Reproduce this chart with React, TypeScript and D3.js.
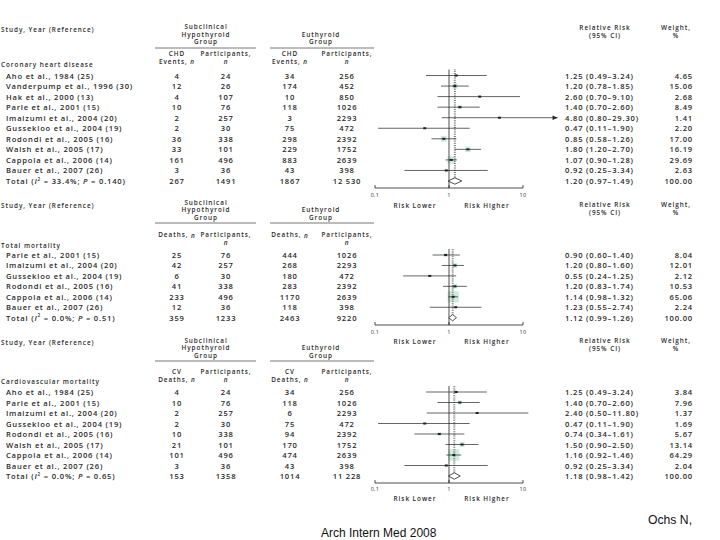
import React from "react";
import * as d3 from "d3";

// ---------- DATA ----------
const chdStudies = [
  "Aho et al., 1984 (25)",
  "Vanderpump et al., 1996 (30)",
  "Hak et al., 2000 (13)",
  "Parle et al., 2001 (15)",
  "Imaizumi et al., 2004 (20)",
  "Gussekloo et al., 2004 (19)",
  "Rodondi et al., 2005 (16)",
  "Walsh et al., 2005 (17)",
  "Cappola et al., 2006 (14)",
  "Bauer et al., 2007 (26)",
];
const chdSubEvents = [4, 12, 4, 10, 2, 2, 36, 33, 161, 3, 267];
const chdSubN = [24, 26, 107, 76, 257, 30, 338, 101, 496, 36, 1491];
const chdEuEvents = [34, 174, 10, 118, 3, 75, 298, 229, 883, 43, 1867];
const chdEuN = [256, 452, 850, 1026, 2293, 472, 2392, 1752, 2639, 398, 12530];
const chdRR = [1.25, 1.2, 2.6, 1.4, 4.8, 0.47, 0.85, 1.8, 1.07, 0.92, 1.2];
const chdLo = [0.49, 0.78, 0.7, 0.7, 0.8, 0.11, 0.58, 1.2, 0.9, 0.25, 0.97];
const chdHi = [3.24, 1.85, 9.1, 2.6, 29.3, 1.9, 1.26, 2.7, 1.28, 3.34, 1.49];
const chdWeight = [4.65, 15.06, 2.68, 8.49, 1.41, 2.2, 17.0, 16.19, 29.69, 2.63, 100.0];
const chdHet = ["33.4%", "0.140"];

const totStudies = [
  "Parle et al., 2001 (15)",
  "Imaizumi et al., 2004 (20)",
  "Gussekloo et al., 2004 (19)",
  "Rodondi et al., 2005 (16)",
  "Cappola et al., 2006 (14)",
  "Bauer et al., 2007 (26)",
];
const totSubEvents = [25, 42, 6, 41, 233, 12, 359];
const totSubN = [76, 257, 30, 338, 496, 36, 1233];
const totEuEvents = [444, 268, 180, 283, 1170, 118, 2463];
const totEuN = [1026, 2293, 472, 2392, 2639, 398, 9220];
const totRR = [0.9, 1.2, 0.55, 1.2, 1.14, 1.23, 1.12];
const totLo = [0.6, 0.8, 0.24, 0.83, 0.98, 0.55, 0.99];
const totHi = [1.4, 1.6, 1.25, 1.74, 1.32, 2.74, 1.26];
const totWeight = [8.04, 12.01, 2.12, 10.53, 65.06, 2.24, 100.0];
const totHet = ["0.0%", "0.51"];

const cvStudies = [
  "Aho et al., 1984 (25)",
  "Parle et al., 2001 (15)",
  "Imaizumi et al., 2004 (20)",
  "Gussekloo et al., 2004 (19)",
  "Rodondi et al., 2005 (16)",
  "Walsh et al., 2005 (17)",
  "Cappola et al., 2006 (14)",
  "Bauer et al., 2007 (26)",
];
const cvSubEvents = [4, 10, 2, 2, 10, 21, 101, 3, 153];
const cvSubN = [24, 76, 257, 30, 338, 101, 496, 36, 1358];
const cvEuEvents = [34, 118, 6, 75, 94, 170, 474, 43, 1014];
const cvEuN = [256, 1026, 2293, 472, 2392, 1752, 2639, 398, 11228];
const cvRR = [1.25, 1.4, 2.4, 0.47, 0.74, 1.5, 1.16, 0.92, 1.18];
const cvLo = [0.49, 0.7, 0.5, 0.11, 0.34, 0.9, 0.92, 0.25, 0.98];
const cvHi = [3.24, 2.6, 11.8, 1.9, 1.61, 2.5, 1.46, 3.34, 1.42];
const cvWeight = [3.84, 7.96, 1.37, 1.69, 5.67, 13.14, 64.29, 2.04, 100.0];
const cvHet = ["0.0%", "0.65"];

const axisTicks = [0.1, 1, 10];
const axisTickLabels = ["0.1", "1", "10"];

// ---------- LAYOUT ----------
const FONT = "'Open Sans', 'DejaVu Sans', sans-serif";
const TXT = "#2a2a2a";
const FS = 7.6; // data rows
const LS = 0.8;
const HFS = 6.4; // headers
const HLS = 0.95;

const x = d3.scaleLog().domain([0.1, 10]).range([375, 523]);

const colSubEv = 177;
const colSubN = 226;
const colEuEv = 290;
const colEuN = 347;
const colRR = 565;
const colRRhdr = 605;
const colW = 693;
const colWhdr = 676;

const fmtN = (n: number) => (n >= 10000 ? d3.format(",")(n).replace(",", " ") : String(n));
const fmtR = d3.format(".2f");

type Sec = {
  studies: string[];
  subEv: number[];
  subN: number[];
  euEv: number[];
  euN: number[];
  rr: number[];
  lo: number[];
  hi: number[];
  w: number[];
  het: string[];
  category: string;
  evHdr: string[];
  hdrY: number;
  grpY: number[];
  lineY: number;
  colY: number[];
  catY: number;
  row0: number;
  dy: number;
  axisY: number;
  tickY: number;
  riskY: number;
  rrHdrY: number[];
};

const sections: Sec[] = [
  {
    studies: chdStudies, subEv: chdSubEvents, subN: chdSubN, euEv: chdEuEvents, euN: chdEuN,
    rr: chdRR, lo: chdLo, hi: chdHi, w: chdWeight, het: chdHet,
    category: "Coronary heart disease", evHdr: ["CHD", "Events, "],
    hdrY: 29, grpY: [26.5, 34, 41.5], lineY: 48, colY: [53.5, 61], catY: 64, row0: 75.5, dy: 10.55,
    axisY: 188, tickY: 195, riskY: 205, rrHdrY: [27.5, 35],
  },
  {
    studies: totStudies, subEv: totSubEvents, subN: totSubN, euEv: totEuEvents, euN: totEuN,
    rr: totRR, lo: totLo, hi: totHi, w: totWeight, het: totHet,
    category: "Total mortality", evHdr: ["Deaths, "],
    hdrY: 205, grpY: [202, 209.5, 217], lineY: 223, colY: [234.5, 242], catY: 245, row0: 255, dy: 10.45,
    axisY: 325, tickY: 332, riskY: 341, rrHdrY: [204.5, 212],
  },
  {
    studies: cvStudies, subEv: cvSubEvents, subN: cvSubN, euEv: cvEuEvents, euN: cvEuN,
    rr: cvRR, lo: cvLo, hi: cvHi, w: cvWeight, het: cvHet,
    category: "Cardiovascular mortality", evHdr: ["CV", "Deaths, "],
    hdrY: 342, grpY: [340, 347.5, 355], lineY: 361, colY: [371.5, 379], catY: 381.5, row0: 392, dy: 10.5,
    axisY: 483, tickY: 489, riskY: 498, rrHdrY: [340.5, 348],
  },
];

const T = (p: {
  x: number;
  y: number;
  anchor?: string;
  children: React.ReactNode;
  size?: number;
  weight?: number;
  ls?: number;
}) => (
  <text
    x={p.x}
    y={p.y}
    textAnchor={p.anchor || "start"}
    dominantBaseline="central"
    fontFamily={FONT}
    fontSize={p.size || FS}
    fontWeight={p.weight || 600}
    letterSpacing={p.ls !== undefined ? p.ls : LS}
    fill={TXT}
  >
    {p.children}
  </text>
);

const H = (p: { x: number; y: number; anchor?: string; children: React.ReactNode }) => (
  <T x={p.x} y={p.y} anchor={p.anchor} size={HFS} ls={HLS}>
    {p.children}
  </T>
);

const It = (p: { children: React.ReactNode }) => <tspan fontStyle="italic">{p.children}</tspan>;

function Section({ s }: { s: Sec }) {
  const n = s.studies.length;
  const rowY = (i: number) => s.row0 + i * s.dy;
  const totalY = rowY(n);
  const pooled = s.rr[n];
  const evHdr = (cx: number) =>
    s.evHdr.length === 1 ? (
      <H x={cx} y={s.colY[0]} anchor="middle">
        {s.evHdr[0]}
        <It>n</It>
      </H>
    ) : (
      <g>
        <H x={cx} y={s.colY[0]} anchor="middle">{s.evHdr[0]}</H>
        <H x={cx} y={s.colY[1]} anchor="middle">
          {s.evHdr[1]}
          <It>n</It>
        </H>
      </g>
    );
  const partHdr = (cx: number) => (
    <g>
      <H x={cx} y={s.colY[0]} anchor="middle">Participants,</H>
      <H x={cx} y={s.colY[1]} anchor="middle">
        <It>n</It>
      </H>
    </g>
  );
  return (
    <g>
      {/* headers */}
      <H x={1} y={s.hdrY}>Study, Year (Reference)</H>
      <H x={206} y={s.grpY[0]} anchor="middle">Subclinical</H>
      <H x={206} y={s.grpY[1]} anchor="middle">Hypothyroid</H>
      <H x={206} y={s.grpY[2]} anchor="middle">Group</H>
      <line x1={155} x2={256} y1={s.lineY} y2={s.lineY} stroke="#555" strokeWidth={0.8} />
      <H x={321} y={s.grpY[1]} anchor="middle">Euthyroid</H>
      <H x={321} y={s.grpY[2]} anchor="middle">Group</H>
      <line x1={270} x2={374} y1={s.lineY} y2={s.lineY} stroke="#555" strokeWidth={0.8} />
      {evHdr(colSubEv)}
      {partHdr(colSubN)}
      {evHdr(colEuEv)}
      {partHdr(colEuN)}
      <H x={colRRhdr} y={s.rrHdrY[0]} anchor="middle">Relative Risk</H>
      <H x={colRRhdr} y={s.rrHdrY[1]} anchor="middle">(95% CI)</H>
      <H x={colWhdr} y={s.rrHdrY[0]} anchor="middle">Weight,</H>
      <H x={colWhdr} y={s.rrHdrY[1]} anchor="middle">%</H>
      <H x={1} y={s.catY}>{s.category}</H>

      {/* rows */}
      {s.rr.map((_, i) => {
        const y = rowY(i);
        const isTot = i === n;
        return (
          <g key={i}>
            {isTot ? (
              <T x={6} y={y}>
                Total (<It>I</It>
                <tspan fontSize={4.8} dy={-2.5}>2</tspan>
                <tspan dy={2.5}> = {s.het[0]}; </tspan>
                <It>P</It> = {s.het[1]})
              </T>
            ) : (
              <T x={6} y={y}>{s.studies[i]}</T>
            )}
            <T x={colSubEv} y={y} anchor="middle">{fmtN(s.subEv[i])}</T>
            <T x={colSubN} y={y} anchor="middle">{fmtN(s.subN[i])}</T>
            <T x={colEuEv} y={y} anchor="middle">{fmtN(s.euEv[i])}</T>
            <T x={colEuN} y={y} anchor="middle">{fmtN(s.euN[i])}</T>
            <T x={colRR} y={y}>
              {fmtR(s.rr[i])} ({fmtR(s.lo[i])}–{fmtR(s.hi[i])})
            </T>
            <T x={colW} y={y} anchor="end">{fmtR(s.w[i])}</T>
          </g>
        );
      })}

      {/* plot: weight squares */}
      {s.rr.slice(0, n).map((r, i) => {
        const side = 1.4 * Math.sqrt(s.w[i]);
        return (
          <rect
            key={"sq" + i}
            x={x(r) - side / 2}
            y={rowY(i) - side / 2}
            width={side}
            height={side}
            fill="#c6e9d5"
            opacity={0.85}
          />
        );
      })}
      {/* reference line at 1 */}
      <line x1={x(1)} x2={x(1)} y1={s.row0 - 6} y2={s.axisY} stroke="#222" strokeWidth={0.8} />
      {/* pooled dotted line */}
      <line
        x1={x(pooled)}
        x2={x(pooled)}
        y1={s.row0 - 6}
        y2={totalY - 3}
        stroke="#777"
        strokeWidth={2}
        strokeDasharray="0.8,1"
      />
      {/* CI lines */}
      {s.rr.slice(0, n).map((r, i) => {
        const y = rowY(i);
        const x2 = x(s.hi[i]);
        const arrow = s.hi[i] > 20;
        return (
          <g key={"ci" + i}>
            <line x1={x(s.lo[i])} x2={x2} y1={y} y2={y} stroke="#222" strokeWidth={0.7} />
            {arrow && (
              <path d={`M${x2},${y} L${x2 - 5},${y - 2.2} L${x2 - 5},${y + 2.2} Z`} fill="#222" />
            )}
            <rect x={x(r) - 1.5} y={y - 1} width={3} height={2} fill="#222" />
          </g>
        );
      })}
      {/* diamond */}
      <path
        d={`M${x(s.lo[n])},${totalY} L${x(s.rr[n])},${totalY - 3.2} L${x(s.hi[n])},${totalY} L${x(s.rr[n])},${totalY + 3.2} Z`}
        fill="#fff"
        stroke="#222"
        strokeWidth={0.8}
      />
      {/* axis */}
      <line x1={x(0.1)} x2={x(10)} y1={s.axisY} y2={s.axisY} stroke="#222" strokeWidth={0.8} />
      {axisTicks.map((t, j) => (
        <g key={"t" + j}>
          <line x1={x(t)} x2={x(t)} y1={s.axisY} y2={s.axisY - 3} stroke="#222" strokeWidth={0.8} />
          <T x={x(t)} y={s.tickY} anchor="middle" size={5.5} weight={400} ls={0.3}>
            {axisTickLabels[j]}
          </T>
        </g>
      ))}
      <H x={415} y={s.riskY} anchor="middle">Risk Lower</H>
      <H x={487} y={s.riskY} anchor="middle">Risk Higher</H>
    </g>
  );
}

export default function App() {
  return (
    <svg
      width={720}
      height={540}
      style={{ position: "absolute", left: 0, top: 0, background: "#fff" }}
    >
      <rect x={0} y={0} width={720} height={540} fill="#fff" />
      {sections.map((s, k) => (
        <Section key={k} s={s} />
      ))}
      <text x={648} y={520} fontFamily="'Liberation Sans', Arial, sans-serif" fontSize={12.2} fill="#111" dominantBaseline="central">
        Ochs N,
      </text>
      <text x={321} y={533} fontFamily="'Liberation Sans', Arial, sans-serif" fontSize={12} fill="#111" dominantBaseline="central">
        Arch Intern Med 2008
      </text>
    </svg>
  );
}
